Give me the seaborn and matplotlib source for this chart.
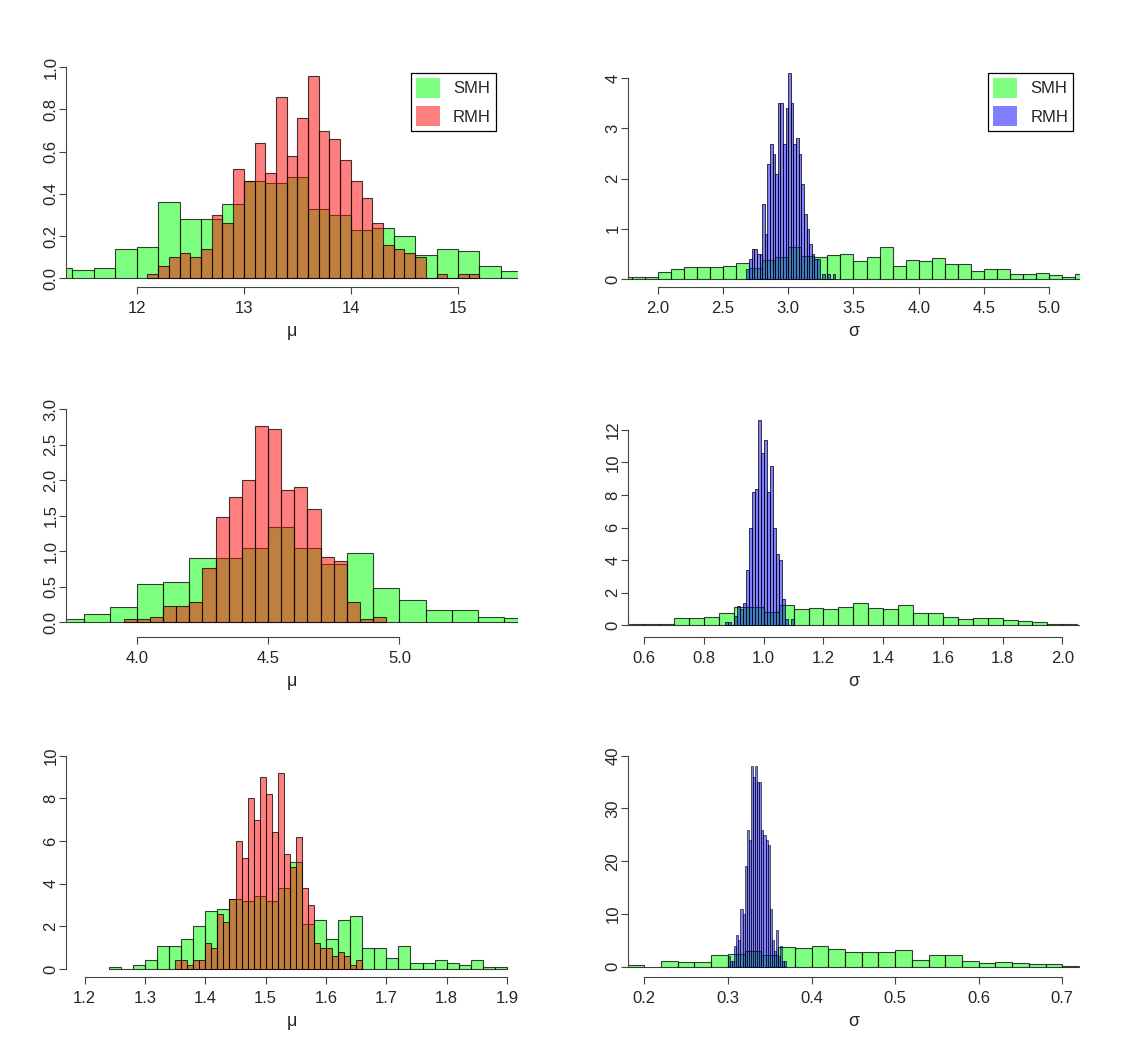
import numpy as np
import matplotlib
matplotlib.use("Agg")
import matplotlib.pyplot as plt
import seaborn as sns
from matplotlib.patches import Patch

# ---- data: bin start, bin width and density heights ----
# top row (mu, sigma)
mu1_smh_start, mu1_smh_width = 11.2, 0.2
mu1_smh = [0.05, 0.04, 0.05, 0.14, 0.15, 0.36, 0.28, 0.28, 0.35, 0.46, 0.45,
           0.48, 0.33, 0.30, 0.23, 0.24, 0.20, 0.11, 0.14, 0.13, 0.06, 0.035]
mu1_rmh_start, mu1_rmh_width = 12.1, 0.1
mu1_rmh = [0.02, 0.06, 0.10, 0.12, 0.10, 0.14, 0.30, 0.26, 0.52, 0.46, 0.64,
           0.50, 0.86, 0.58, 0.76, 0.96, 0.70, 0.66, 0.56, 0.46, 0.38, 0.26,
           0.16, 0.14, 0.12, 0.10, 0.0, 0.02, 0.0, 0.02, 0.02]

sd1_smh_start, sd1_smh_width = 1.7, 0.1
sd1_smh = [0.03, 0.03, 0.03, 0.13, 0.20, 0.24, 0.24, 0.24, 0.26, 0.31, 0.21,
           0.38, 0.44, 0.64, 0.46, 0.44, 0.48, 0.50, 0.36, 0.44, 0.64, 0.25,
           0.38, 0.36, 0.42, 0.30, 0.30, 0.15, 0.19, 0.19, 0.09, 0.09, 0.11,
           0.07, 0.03, 0.09]
sd1_rmh_start, sd1_rmh_width = 2.68, 0.02
sd1_rmh = [0.2, 0.4, 0.6, 0.6, 0.5, 0.5, 1.5, 0.9, 2.3, 2.7, 2.5, 2.1, 3.5,
           3.5, 2.7, 3.4, 4.1, 3.5, 2.7, 2.8, 2.5, 1.9, 1.3, 1.0, 0.7, 0.5,
           0.4, 0.4, 0.0, 0.1, 0.0, 0.1, 0.0, 0.1]

# middle row
mu2_smh_start, mu2_smh_width = 3.7, 0.1
mu2_smh = [0.04, 0.11, 0.21, 0.54, 0.57, 0.91, 0.90, 1.05, 1.34, 1.05, 0.82,
           0.98, 0.49, 0.32, 0.18, 0.18, 0.075, 0.055]
mu2_rmh_start, mu2_rmh_width = 3.95, 0.05
mu2_rmh = [0.04, 0.04, 0.07, 0.23, 0.23, 0.28, 0.76, 1.48, 1.76, 2.00, 2.76,
           2.72, 1.87, 1.91, 1.60, 0.92, 0.87, 0.28, 0.04, 0.07]

sd2_smh_start, sd2_smh_width = 0.55, 0.05
sd2_smh = [0.08, 0.10, 0.10, 0.42, 0.42, 0.54, 0.77, 1.15, 1.15, 0.80, 1.23,
           0.98, 1.09, 1.00, 1.10, 1.35, 1.04, 0.98, 1.23, 0.74, 0.74, 0.49,
           0.41, 0.43, 0.43, 0.31, 0.25, 0.18, 0.08, 0.06, 0.04]
sd2_rmh_start, sd2_rmh_width = 0.87, 0.01
sd2_rmh = [0.2, 0.2, 0.0, 0.6, 1.2, 1.0, 1.4, 3.4, 6.0, 8.2, 8.4, 12.6, 10.6,
           11.4, 8.2, 9.8, 6.0, 4.4, 4.0, 1.6, 0.4, 0.0, 0.4]

# bottom row
mu3_smh_start, mu3_smh_width = 1.24, 0.02
mu3_smh = [0.1, 0.0, 0.2, 0.4, 1.1, 1.1, 1.4, 2.0, 2.7, 2.8, 3.3, 3.2, 3.4,
           3.2, 3.8, 5.0, 2.1, 2.3, 1.4, 2.3, 2.5, 1.0, 1.0, 0.5, 1.1, 0.3,
           0.3, 0.4, 0.3, 0.2, 0.4, 0.1, 0.1]
mu3_rmh_start, mu3_rmh_width = 1.35, 0.01
mu3_rmh = [0.4, 0.4, 0.2, 0.4, 0.4, 1.2, 1.0, 2.6, 2.2, 3.3, 6.0, 5.2, 8.0,
           7.0, 9.0, 8.2, 6.4, 9.2, 5.4, 4.8, 6.2, 3.8, 3.0, 1.2, 1.0, 1.0,
           0.6, 0.8, 0.6, 0.2, 0.4]

sd3_smh_start, sd3_smh_width = 0.18, 0.02
sd3_smh = [0.25, 0.0, 1.0, 0.8, 0.8, 2.3, 2.5, 3.0, 2.3, 3.7, 3.5, 4.0, 3.4,
           2.7, 2.8, 2.7, 3.1, 1.2, 2.3, 2.15, 1.0, 0.63, 0.8, 0.63, 0.44,
           0.44, 0.05]
sd3_rmh_start, sd3_rmh_width = 0.30, 0.0025
sd3_rmh = [2, 1, 1, 4, 6, 5, 11, 10, 19, 26, 24, 38, 36, 38, 35, 35, 26, 25,
           24, 23, 11, 5, 3, 7, 2, 4, 1, 1]

# ticks
mu1_xticks = [12, 13, 14, 15]
mu1_yticks = [0.0, 0.2, 0.4, 0.6, 0.8, 1.0]
sd1_xticks = [2.0, 2.5, 3.0, 3.5, 4.0, 4.5, 5.0]
sd1_yticks = [0, 1, 2, 3, 4]
mu2_xticks = [4.0, 4.5, 5.0]
mu2_yticks = [0.0, 0.5, 1.0, 1.5, 2.0, 2.5, 3.0]
sd2_xticks = [0.6, 0.8, 1.0, 1.2, 1.4, 1.6, 1.8, 2.0]
sd2_yticks = [0, 2, 4, 6, 8, 10, 12]
mu3_xticks = [1.2, 1.3, 1.4, 1.5, 1.6, 1.7, 1.8, 1.9]
mu3_yticks = [0, 2, 4, 6, 8, 10]
sd3_xticks = [0.2, 0.3, 0.4, 0.5, 0.6, 0.7]
sd3_yticks = [0, 10, 20, 30, 40]

GREEN = (0, 1, 0)
RED = (1, 0, 0)
BLUE = (0, 0, 1)
EDGE = (0, 0, 0, 0.75)

W, H, DPI = 1127, 1053, 100
sns.set_style("ticks")
plt.rcParams["font.family"] = ["Liberation Sans", "DejaVu Sans"]
FS = 12

fig = plt.figure(figsize=(W / DPI, H / DPI), dpi=DPI)


def draw_hist(ax, start, width, heights, color, lw):
    edges = start + width * np.arange(len(heights) + 1)
    mids = edges[:-1] + width / 2
    # bins passed as a list: seaborn compares bins to "auto" when weights are used
    sns.histplot(x=mids, weights=heights, bins=list(edges), stat="count",
                 color=color, alpha=0.5, edgecolor=EDGE, linewidth=lw, ax=ax)


def panel(box, xref, yref, smh, rmh, rmh_color, rmh_lw, xticks, yticks, xlab, ylabfmt):
    left, right, top, bottom = box
    ax = fig.add_axes([left / W, 1 - bottom / H, (right - left) / W, (bottom - top) / H])
    draw_hist(ax, *smh, GREEN, 0.8)
    draw_hist(ax, *rmh, rmh_color, rmh_lw)
    # pixel -> data mapping of the original plot region
    x0v, x0p, xs = xref
    y0p, ys = yref
    ax.set_xlim(x0v + (left - x0p) / xs, x0v + (right - x0p) / xs)
    ax.set_ylim((y0p - bottom) / ys, (y0p - top) / ys)
    ax.set_xticks(xticks)
    ax.set_yticks(yticks)
    ax.set_xticklabels([f"{t:g}" if isinstance(t, int) else f"{t:.1f}" for t in xticks])
    ax.set_yticklabels([ylabfmt.format(t) for t in yticks])
    for s in ["top", "right"]:
        ax.spines[s].set_visible(False)
    ax.spines["left"].set_bounds(yticks[0], yticks[-1])
    ax.spines["bottom"].set_bounds(xticks[0], xticks[-1])
    for s in ["left", "bottom"]:
        ax.spines[s].set_linewidth(0.8)
        ax.spines[s].set_color("#444444")
    ax.tick_params(direction="out", length=5, width=0.8, color="#444444",
                   labelsize=FS)
    ax.tick_params(axis="x", pad=5)
    ax.tick_params(axis="y", labelrotation=90, pad=0.5)
    for lbl in ax.get_yticklabels():
        lbl.set_va("center")
    ax.set_ylabel("")
    ax.set_xlabel(xlab, fontsize=FS + 1)
    ax.xaxis.set_label_coords(0.5, -44 / (bottom - top))
    ax.xaxis.label.set_va("center")
    return ax


ax1 = panel((66, 518, 59, 287), (12, 136.7, 107.1), (278.3, 211),
            (mu1_smh_start, mu1_smh_width, mu1_smh),
            (mu1_rmh_start, mu1_rmh_width, mu1_rmh), RED, 0.8,
            mu1_xticks, mu1_yticks, "μ", "{:.1f}")
ax2 = panel((628, 1080, 59, 287), (2.0, 657.7, 130.53), (279, 50.18),
            (sd1_smh_start, sd1_smh_width, sd1_smh),
            (sd1_rmh_start, sd1_rmh_width, sd1_rmh), BLUE, 0.7,
            sd1_xticks, sd1_yticks, "σ", "{:g}")
ax3 = panel((66, 518, 409, 637), (4.0, 136.7, 262.7), (622.3, 71),
            (mu2_smh_start, mu2_smh_width, mu2_smh),
            (mu2_rmh_start, mu2_rmh_width, mu2_rmh), RED, 0.8,
            mu2_xticks, mu2_yticks, "μ", "{:.1f}")
ax4 = panel((628, 1080, 409, 637), (0.6, 644.3, 298.6), (625.3, 16.28),
            (sd2_smh_start, sd2_smh_width, sd2_smh),
            (sd2_rmh_start, sd2_rmh_width, sd2_rmh), BLUE, 0.7,
            sd2_xticks, sd2_yticks, "σ", "{:g}")
ax5 = panel((66, 518, 749, 977), (1.2, 84.7, 603.3), (969, 21.33),
            (mu3_smh_start, mu3_smh_width, mu3_smh),
            (mu3_rmh_start, mu3_rmh_width, mu3_rmh), RED, 0.75,
            mu3_xticks, mu3_yticks, "μ", "{:g}")
ax6 = panel((628, 1080, 749, 977), (0.2, 644.3, 836), (966.7, 5.275),
            (sd3_smh_start, sd3_smh_width, sd3_smh),
            (sd3_rmh_start, sd3_rmh_width, sd3_rmh), BLUE, 0.55,
            sd3_xticks, sd3_yticks, "σ", "{:g}")


def add_legend(ax, second_color, right_px, top_px):
    handles = [Patch(facecolor=(*GREEN, 0.5), edgecolor="none", label="SMH"),
               Patch(facecolor=(*second_color, 0.5), edgecolor="none", label="RMH")]
    leg = ax.legend(handles=handles, loc="upper right",
                    bbox_to_anchor=(right_px / W, 1 - top_px / H),
                    bbox_transform=fig.transFigure, frameon=True, fancybox=False,
                    fontsize=FS, handlelength=1.45, handleheight=1.45,
                    handletextpad=0.8, borderpad=0.3, labelspacing=0.5,
                    borderaxespad=0)
    leg.get_frame().set_edgecolor("black")
    leg.get_frame().set_linewidth(0.9)
    leg.get_frame().set_alpha(1)


add_legend(ax1, RED, 496, 73)
add_legend(ax2, BLUE, 1073, 73)

fig.savefig("out.png", dpi=DPI, facecolor="white")
